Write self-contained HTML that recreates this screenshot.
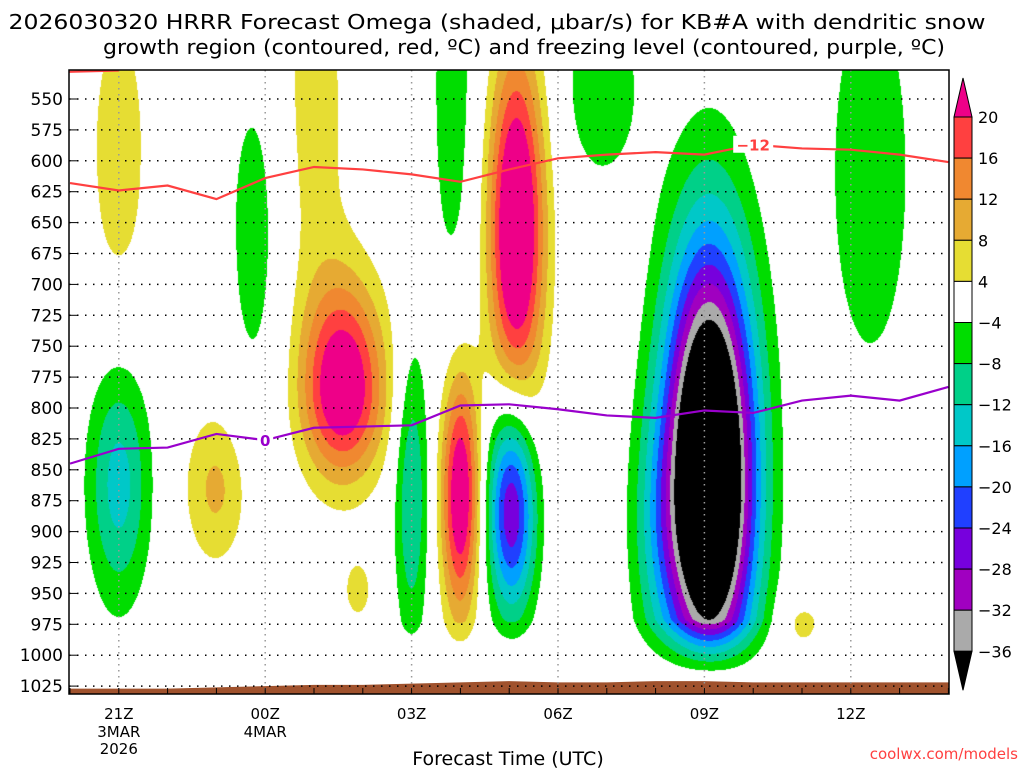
<!DOCTYPE html>
<html><head><meta charset="utf-8"><style>
body{margin:0;background:#fff;width:1024px;height:768px;overflow:hidden;position:relative;font-family:"DejaVu Sans",sans-serif}
#shade{position:absolute;left:69px;top:70px}
#ov{position:absolute;left:0;top:0}
</style></head><body>
<canvas id="shade" width="880" height="624"></canvas>
<svg id="ov" width="1024" height="768" font-family="DejaVu Sans, sans-serif">
<text x="497" y="29" font-size="20" text-anchor="middle" textLength="977" lengthAdjust="spacingAndGlyphs">2026030320 HRRR Forecast Omega (shaded, μbar/s) for KB#A with dendritic snow</text>
<text x="524" y="54" font-size="20" text-anchor="middle" textLength="842" lengthAdjust="spacingAndGlyphs">growth region (contoured, red, ºC) and freezing level (contoured, purple, ºC)</text>
<text x="508" y="765" font-size="19" text-anchor="middle">Forecast Time (UTC)</text>
<text x="1018" y="759" font-size="15" fill="#ff4040" text-anchor="end">coolwx.com/models</text>
<g id="g"></g>
</svg>
<script>
// ---- data ----
const levelsP=[550,575,600,625,650,675,700,725,750,775,800,825,850,875,900,925,950,975,1000,1025];
const timeLabels=["21Z","00Z","03Z","06Z","09Z","12Z"];
const timeLabelHours=[1,4,7,10,13,16];
const dateLabels=[["3MAR","2026"],["4MAR"]];
const hours=[0,1,2,3,4,5,6,7,8,9,10,11,12,13,14,15,16,17,18];
const dgzPres=[618,624,620,631,614,605,607,611,617,607,598,595,593,595,587,590,591,595,601];
const frzPres=[845,833,832,821,826,816,815,814,798,797,801,806,808,802,804,794,790,794,783];
const sfcPres=[1027,1027,1027,1026,1025,1024,1024,1023,1022,1021,1022,1022,1021,1021,1022,1022,1022,1022,1022];
const blobHour=[1.0,1.0,3.0,3.8,5.6,5.0,7.0,8.0,9.15,9.05,7.85,10.9,13.1,16.4,15.0,5.9,12.0];
const blobPres=[590,860,865,650,785,560,870,870,655,880,540,540,860,610,982,948,900];
const blobPeak=[6,-14,9,-6,26,6,-12,26,30,-29,-6,-7,-60,-7,6,5,-6];
const blobSigT=[0.5,0.45,0.47,0.45,0.6,0.55,0.25,0.28,0.4,0.35,0.38,0.6,0.65,0.68,0.35,0.3,0.4];
const blobSigPUp=[100,69,45,100,60,120,85,70,100,60,120,60,130,130,22,25,70];
const blobSigPDn=[110,69,45,120,50,120,85,70,100,60,150,60,110,130,22,25,70];
const cbLevels=[20,16,12,8,4,-4,-8,-12,-16,-20,-24,-28,-32,-36];
const binColors=["#000000","#aaaaaa","#a000c0","#7700dd","#2040ff","#00a0ff","#00c8c8","#00d088","#00dd00","#ffffff","#e6dd33","#e6aa33","#f08830","#ff4040","#ee0088"];
// ---- axes ----
const X=h=>70+h*48.8;
const Y=p=>99+(p-550)*1.236;
const L=69,T=70,R=949,B=694;
const H=v=>(v-70)/48.8, P=y=>550+(y-99)/1.236;
const ascLv=cbLevels.slice().reverse();
function col(v){let i=0;while(i<ascLv.length&&v>=ascLv[i])i++;return binColors[i];}
function sfcAt(h){const i=Math.max(0,Math.min(17,Math.floor(h)));const f=Math.max(0,Math.min(1,h-i));return sfcPres[i]+(sfcPres[i+1]-sfcPres[i])*f;}
function field(h,p){let s=0;for(let i=0;i<blobHour.length;i++){const dt=(h-blobHour[i])/blobSigT[i];const sp=p<blobPres[i]?blobSigPUp[i]:blobSigPDn[i];const dp=(p-blobPres[i])/sp;s+=blobPeak[i]*Math.exp(-0.5*(dt*dt+dp*dp));}
const damp=Math.max(0,Math.min(1,(sfcAt(h)-p)/50));return s*damp;}
const cv=document.getElementById('shade'),cx=cv.getContext('2d');
const img=cx.createImageData(880,624);
const rgbCache={};
function rgb(c){if(!rgbCache[c])rgbCache[c]=[parseInt(c.substr(1,2),16),parseInt(c.substr(3,2),16),parseInt(c.substr(5,2),16)];return rgbCache[c];}
for(let py=0;py<624;py++){const p=P(py+T+0.5);for(let px=0;px<880;px++){const h=H(px+L+0.5);const c=rgb(col(field(h,p)));const k=(py*880+px)*4;img.data[k]=c[0];img.data[k+1]=c[1];img.data[k+2]=c[2];img.data[k+3]=255;}}
cx.putImageData(img,0,0);
const NS="http://www.w3.org/2000/svg",g=document.getElementById('g');
function el(t,a,parent){const e=document.createElementNS(NS,t);for(const k in a)e.setAttribute(k,a[k]);(parent||g).appendChild(e);return e;}
// terrain
let d="M"+L+","+B+" L"+L+","+Y(sfcPres[0]);
hours.forEach((h,i)=>{d+=" L"+Math.min(R,X(h))+","+Y(sfcPres[i]);});
d+=" L"+R+","+Y(sfcPres[sfcPres.length-1])+" L"+R+","+B+" Z";
const terr=el('path',{d:d,fill:"#a0522d"});


// grid
levelsP.forEach(p=>{const ln=el('line',{x1:L,x2:R,y1:Y(p),y2:Y(p),stroke:"#000","stroke-width":1.5,"stroke-dasharray":"1.5 6.5"});


const tk=el('line',{x1:L,x2:L+8,y1:Y(p),y2:Y(p),stroke:"#000","stroke-width":1});


const t=el('text',{x:63,y:Y(p)+6,"font-size":17,"text-anchor":"end"});t.textContent=p;

});
timeLabelHours.forEach((h,i)=>{const ln=el('line',{x1:X(h),x2:X(h),y1:T,y2:B,stroke:"#999","stroke-width":1.5,"stroke-dasharray":"1.5 4.5"});


const t=el('text',{x:X(h),y:719,"font-size":15,"text-anchor":"middle"});t.textContent=timeLabels[i];

});
dateLabels.forEach((arr,j)=>{arr.forEach((s,k)=>{const t=el('text',{x:X(timeLabelHours[j]),y:737+k*17,"font-size":15,"text-anchor":"middle"});t.textContent=s;

});});
for(let h=0;h<=18;h++){const tk=el('line',{x1:X(h),x2:X(h),y1:B,y2:B-6,stroke:"#000"});

}
// lines
function line(arr,color,name){let s="";hours.forEach((h,i)=>{s+=(i?" L":"M")+Math.max(L,Math.min(R,X(h)))+","+Y(arr[i]);});const p=el('path',{d:s,fill:"none",stroke:color,"stroke-width":2.2});

}
line(dgzPres,"#ff4040","dgz-contour-minus12");
line(frzPres,"#9900cc","freezing-level-contour");
const topLine=el('line',{x1:L,x2:X(1),y1:Y(528),y2:Y(527),stroke:"#ff4040","stroke-width":2.2});


function lab(h,arr,txt,color,name){const i=Math.floor(h),f=h-i;const p=arr[i]+(arr[i+1]-arr[i])*f;
const r=el('rect',{x:X(h)-txt.length*6-2,y:Y(p)-9,width:txt.length*12+4,height:17,fill:"#fff"});


const t=el('text',{x:X(h),y:Y(p)+6,"font-size":15,"font-weight":"bold",fill:color,"text-anchor":"middle"});t.textContent=txt;

}
lab(14.0,dgzPres,"−12","#ff4040","dgz-label");
lab(4.0,frzPres,"0","#9900cc","freezing-label");
const bd=el('rect',{x:L,y:T,width:R-L,height:B-T,fill:"none",stroke:"#000","stroke-width":1.5});


// colorbar
const cbx=954,cbw=18,cbTop=117,bh=41.1;
const upA=el('path',{d:`M${cbx},${cbTop} L${cbx+cbw/2},${cbTop-39} L${cbx+cbw},${cbTop} Z`,fill:binColors[14],stroke:"#000"});


for(let i=0;i<13;i++){const r=el('rect',{x:cbx,y:cbTop+i*bh,width:cbw,height:bh,fill:binColors[13-i],stroke:"#000"});

}
const bot=cbTop+13*bh;
const dnA=el('path',{d:`M${cbx},${bot} L${cbx+cbw/2},${bot+39} L${cbx+cbw},${bot} Z`,fill:"#000",stroke:"#000"});


cbLevels.forEach((v,i)=>{const t=el('text',{x:978,y:cbTop+i*bh+6,"font-size":16});t.textContent=(v<0?"−":"")+Math.abs(v);

});
</script>
</body></html>
